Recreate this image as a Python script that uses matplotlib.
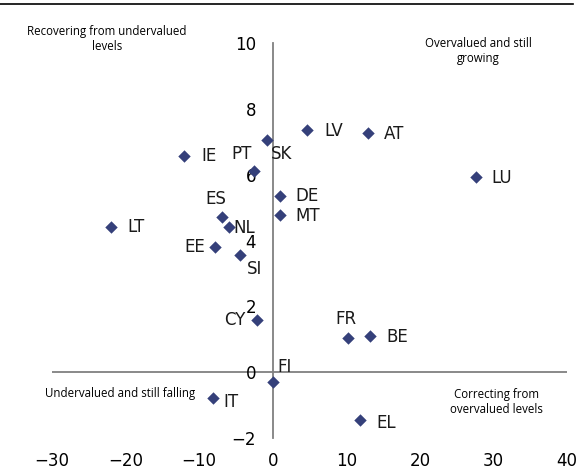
import matplotlib.pyplot as plt
from matplotlib.lines import Line2D

# country codes and values
countries = ['SK', 'IE', 'PT', 'ES', 'NL', 'LT', 'EE', 'SI', 'CY', 'DE', 'MT',
             'LV', 'AT', 'LU', 'FR', 'BE', 'FI', 'IT', 'EL']
x_vals = [-0.8, -12.1, -2.6, -6.9, -5.9, -22.0, -7.8, -4.5, -2.1, 1.0, 1.0,
          4.7, 13.0, 27.6, 10.2, 13.2, 0.0, -8.1, 11.8]
y_vals = [7.05, 6.58, 6.12, 4.71, 4.41, 4.41, 3.79, 3.55, 1.59, 5.34, 4.78,
          7.37, 7.27, 5.94, 1.03, 1.11, -0.30, -0.78, -1.46]

x_ticks = [-30, -20, -10, 0, 10, 20, 30, 40]
y_ticks = [-2, 0, 2, 4, 6, 8, 10]

# label offsets in pixels (dx, dy)
offsets = {
    'SK': (15, -14), 'IE': (25, 0), 'PT': (-12, 17), 'ES': (-6, 18),
    'NL': (15, -1), 'LT': (25, 0), 'EE': (-21, 0), 'SI': (15, -14),
    'CY': (-22, 0), 'DE': (27, 0), 'MT': (28, -1), 'LV': (26, -1),
    'AT': (26, -1), 'LU': (26, -1), 'FR': (-2, 19), 'BE': (27, -1),
    'FI': (12, 15), 'IT': (18, -4), 'EL': (27, -3),
}

fig = plt.figure(figsize=(5.84, 4.70), dpi=100)
ax = fig.add_axes([52 / 584, 32 / 470, 515 / 584, 395 / 470])

ax.scatter(x_vals, y_vals, marker='D', s=40, color='#35407A', zorder=3, linewidths=0)
for c, x, y in zip(countries, x_vals, y_vals):
    dx, dy = offsets[c]
    ax.annotate(c, (x, y), xytext=(dx, dy), textcoords='offset pixels',
                ha='center', va='center', fontsize=12, color='#1a1a1a')

ax.set_xlim(-30, 40)
ax.set_ylim(-2, 10)
ax.set_xticks(x_ticks)
ax.set_yticks(y_ticks)

for s in ['top', 'right', 'bottom']:
    ax.spines[s].set_visible(False)
ax.spines['left'].set_position(('data', 0))
ax.spines['left'].set_color('#808080')
ax.spines['left'].set_linewidth(1.3)
ax.axhline(0, color='#808080', lw=1.3, zorder=1)

ax.tick_params(axis='x', length=0, pad=10, labelsize=12)
ax.tick_params(axis='y', length=0, pad=12, labelsize=12)

qfont = dict(fontsize=8.3, family='Open Sans', ha='center', va='center',
             transform=fig.transFigure, linespacing=1.2)
fig.text(107 / 584, 1 - 39 / 470, 'Recovering from undervalued\nlevels', **qfont)
fig.text(478 / 584, 1 - 51 / 470, 'Overvalued and still\ngrowing', **qfont)
fig.text(120 / 584, 1 - 394 / 470, 'Undervalued and still falling', **qfont)
fig.text(496 / 584, 1 - 402 / 470, 'Correcting from\novervalued levels', **qfont)

fig.add_artist(Line2D([0, 573 / 584], [1 - 3.5 / 470, 1 - 3.5 / 470],
                      color='black', lw=1.2, transform=fig.transFigure))

fig.savefig('out.png', dpi=100)
